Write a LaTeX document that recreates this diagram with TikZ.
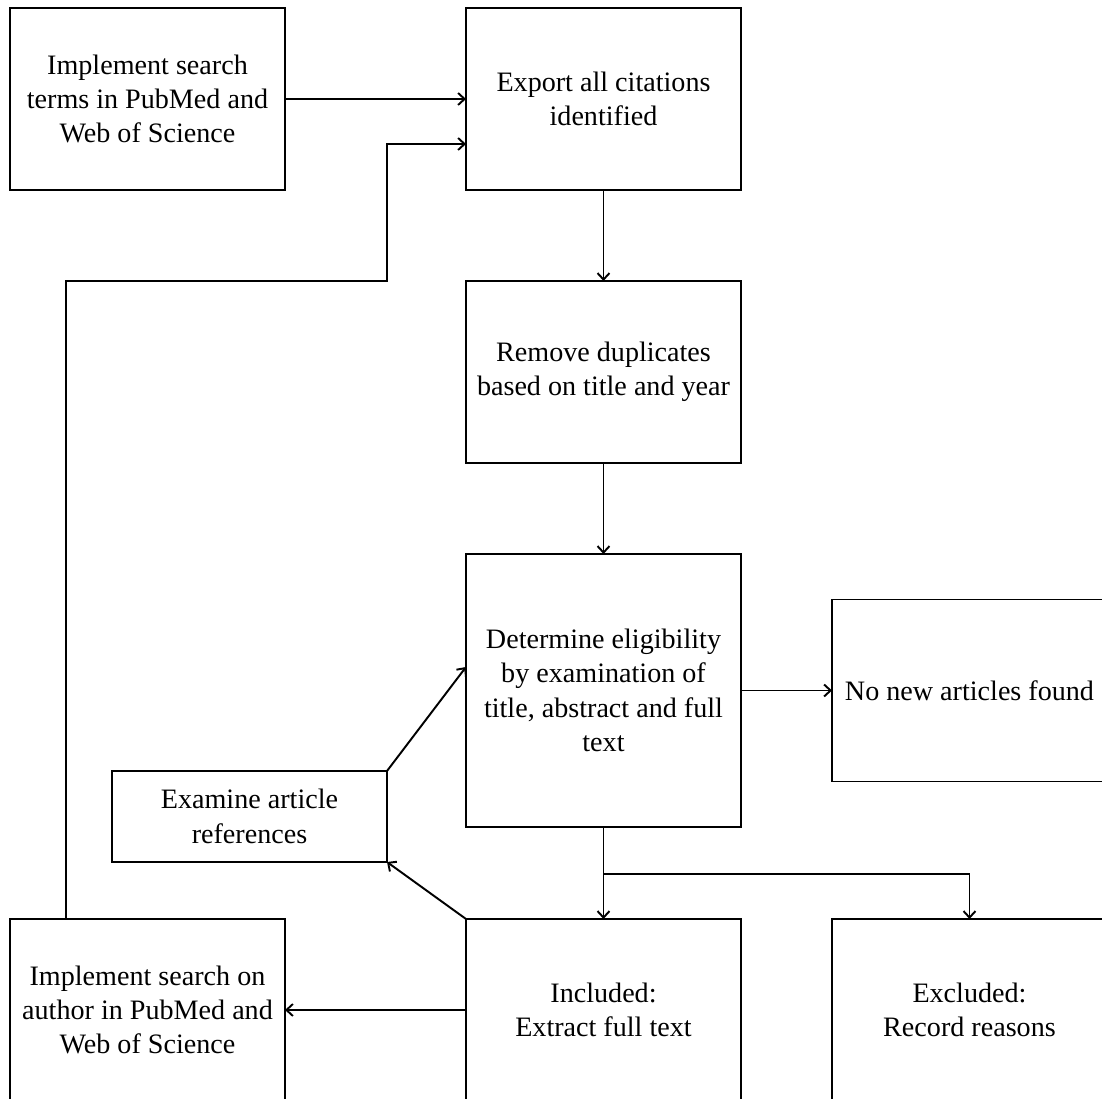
\documentclass[tikz,border=0pt]{standalone}
\usepackage{fontspec}
\setmainfont{Liberation Serif}
\usepackage{tikz}
\usetikzlibrary{arrows.meta,positioning}

\begin{document}
\begin{tikzpicture}[
  node distance=1.82cm and 3.62cm,
  box/.style={rectangle, draw, line width=1.1pt, outer sep=0pt, minimum width=5.5cm, minimum height=3.64cm, align=center, font=\fontsize{16}{19.6}\selectfont},
  arr/.style={-{Straight Barb[length=1.3mm,width=2.4mm]}, line width=1.1pt}
]
  \clip (0,0) rectangle (22.04,-21.98);
  \node[box, anchor=north west] (export) at (9.32,-0.16) {Export all citations\\identified};
  \node[box, left=of export] (terms) {Implement search\\terms in PubMed and\\Web of Science};
  \node[box, below=of export] (dupl) {Remove duplicates\\based on title and year};
  \node[box, below=of dupl, minimum height=5.46cm] (elig) {Determine eligibility\\by examination of\\title, abstract and full\\text};
  \node[box, right=1.82cm of elig] (nonew) {No new articles found};
  \node[box, below=1.84cm of elig] (incl) {Included:\\Extract full text};
  \node[box, right=1.82cm of incl] (excl) {Excluded:\\Record reasons};
  \node[box, left=of incl] (author) {Implement search on\\author in PubMed and\\Web of Science};
  \node[box, anchor=north east, minimum height=1.82cm] (refs) at (7.74,-15.42) {Examine article\\references};
  \coordinate (split) at ([yshift=-0.94cm]elig.south);

  \draw[arr] (terms) -- (export);
  \draw[arr] ([xshift=1.12cm]author.north west) |- (refs.east |- dupl.north) |- ([yshift=-0.9cm]export.west);
  \draw[arr] (export) -- (dupl);
  \draw[arr] (dupl) -- (elig);
  \draw[arr] (elig) -- (nonew);
  \draw[line width=1.1pt] (elig) -- (split);
  \draw[arr] (split) -- (incl);
  \draw[arr] (split) -| (excl.north);
  \draw[arr] (incl) -- (author);
  \draw[arr] (incl.north west) -- (refs.south east);
  \draw[arr] (refs.north east) -- ([yshift=0.47cm]elig.west);
\end{tikzpicture}
\end{document}
